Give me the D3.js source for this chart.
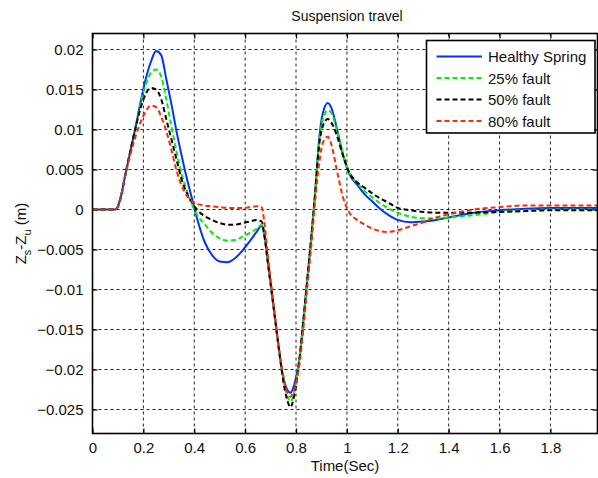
<!DOCTYPE html>
<html>
<head>
<meta charset="utf-8">
<script src="https://cdn.jsdelivr.net/npm/d3@7"></script>
<style>
  body { margin: 0; background: #fff; }
  svg { display: block; font-family: "Liberation Sans", Arial, sans-serif; }
</style>
</head>
<body>
<div id="chart"></div>
<script>
// data
const time = [0, 0.05, 0.09, 0.10, 0.11, 0.13, 0.15, 0.17, 0.19, 0.21, 0.23, 0.25, 0.27, 0.29, 0.31, 0.33, 0.35, 0.37, 0.39, 0.41,
  0.44, 0.47, 0.50, 0.53, 0.56, 0.59, 0.62, 0.645, 0.665, 0.675, 0.69, 0.705, 0.72, 0.735, 0.75, 0.765, 0.778, 0.79, 0.80,
  0.815, 0.83, 0.845, 0.86, 0.875, 0.89, 0.905, 0.925, 0.94, 0.96, 0.985, 1.01, 1.04, 1.07, 1.10, 1.13, 1.16, 1.20, 1.25,
  1.30, 1.35, 1.40, 1.50, 1.60, 1.70, 1.80, 1.90, 2.0];

const healthy = [0, 0, 0, 0.0004, 0.0014, 0.0045, 0.0074, 0.0104, 0.0136, 0.0164, 0.0185, 0.0198, 0.0193, 0.0163, 0.0132, 0.0098, 0.0068, 0.0040, 0.0015, -0.0010,
  -0.0040, -0.0057, -0.0065, -0.0066, -0.0061, -0.0051, -0.0039, -0.0028, -0.0020, -0.0032, -0.0068, -0.0105, -0.0143, -0.0180, -0.0210, -0.0225, -0.0229, -0.0222, -0.0210,
  -0.0183, -0.0135, -0.0085, -0.0035, 0.0020, 0.0085, 0.0120, 0.0133, 0.0126, 0.0102, 0.0068, 0.0044, 0.0031, 0.0019, 0.0010, 0.0001, -0.0006, -0.0013, -0.0016,
  -0.0015, -0.0013, -0.0010, -0.0004, -0.0001, 0.0001, 0.0002, 0.0002, 0.0002];

const fault25 = [0, 0, 0, 0.0004, 0.0014, 0.0045, 0.0075, 0.0104, 0.0134, 0.0157, 0.0171, 0.0175, 0.0166, 0.0138, 0.0104, 0.0073, 0.0045, 0.0024, 0.0007, -0.0006,
  -0.0018, -0.0029, -0.0036, -0.0039, -0.0038, -0.0034, -0.0029, -0.0024, -0.0019, -0.0032, -0.0068, -0.0105, -0.0143, -0.0180, -0.0212, -0.0232, -0.0240, -0.0232, -0.0216,
  -0.0183, -0.0135, -0.0085, -0.0035, 0.0020, 0.0082, 0.0113, 0.0124, 0.0120, 0.0100, 0.0070, 0.0046, 0.0033, 0.0023, 0.0015, 0.0008, 0.0002, -0.0004, -0.0009,
  -0.0011, -0.0011, -0.0010, -0.0007, -0.0003, -0.0001, 0, 0, 0];

const fault50 = [0, 0, 0, 0.0004, 0.0014, 0.0045, 0.0075, 0.0103, 0.0128, 0.0145, 0.0152, 0.0150, 0.0138, 0.0113, 0.0088, 0.0063, 0.0038, 0.0021, 0.0009, 0.0000,
  -0.0008, -0.0013, -0.0017, -0.0019, -0.0019, -0.0017, -0.0015, -0.0013, -0.0015, -0.0030, -0.0068, -0.0105, -0.0143, -0.0180, -0.0215, -0.0238, -0.0247, -0.0237, -0.0220,
  -0.0183, -0.0135, -0.0085, -0.0035, 0.0020, 0.0078, 0.0104, 0.0113, 0.0108, 0.0093, 0.0067, 0.0046, 0.0034, 0.0027, 0.0020, 0.0014, 0.0009, 0.0002, -0.0001,
  -0.0003, -0.0004, -0.0004, -0.0004, -0.0003, -0.0002, -0.0001, -0.0001, -0.0001];

const fault80 = [0, 0, 0, 0.0004, 0.0014, 0.0044, 0.0070, 0.0092, 0.0110, 0.0123, 0.0130, 0.0128, 0.0116, 0.0098, 0.0075, 0.0049, 0.0030, 0.0018, 0.0010, 0.0007,
  0.0005, 0.0004, 0.0003, 0.0002, 0.0002, 0.0002, 0.0003, 0.0004, 0.0003, -0.0015, -0.0060, -0.0100, -0.0140, -0.0178, -0.0208, -0.0228, -0.0234, -0.0228, -0.0218,
  -0.0190, -0.0145, -0.0095, -0.0045, 0.0010, 0.0055, 0.0083, 0.0091, 0.0080, 0.0050, 0.0015, -0.0004, -0.0013, -0.0019, -0.0024, -0.0027, -0.0028, -0.0026, -0.0021,
  -0.0016, -0.0010, -0.0006, 0.0000, 0.0003, 0.0005, 0.0005, 0.0005, 0.0005];

const seriesNames = ["Healthy Spring", "25% fault", "50% fault", "80% fault"];
const seriesColors = ["#0033ff", "#00ee00", "#000000", "#ff2a00"];
const xTicks = [0, 0.2, 0.4, 0.6, 0.8, 1, 1.2, 1.4, 1.6, 1.8];
const yTicks = [0.02, 0.015, 0.01, 0.005, 0, -0.005, -0.01, -0.015, -0.02, -0.025];

const W = 598, H = 478;
const pL = 92.5, pR = 597.5, pT = 33.5, pB = 433.5;

const svg = d3.select("#chart").append("svg")
  .attr("width", W).attr("height", H);

const x = d3.scaleLinear().domain([0, 1.985]).range([pL, pR]);
const y = d3.scaleLinear().domain([-0.028, 0.022]).range([pB, pT]);

svg.append("defs").append("clipPath").attr("id", "clip")
  .append("rect").attr("x", pL).attr("y", pT)
  .attr("width", pR - pL).attr("height", pB - pT);

// grid
const grid = svg.append("g");
grid.selectAll(".gx").data(xTicks.slice(1)).enter().append("line")
  .attr("x1", d => x(d)).attr("x2", d => x(d))
  .attr("y1", pT).attr("y2", pB)
  .attr("stroke", "#222").attr("stroke-width", 1).attr("stroke-dasharray", "3,3");
grid.selectAll(".gy").data(yTicks).enter().append("line")
  .attr("x1", pL).attr("x2", pR)
  .attr("y1", d => y(d)).attr("y2", d => y(d))
  .attr("stroke", "#222").attr("stroke-width", 1).attr("stroke-dasharray", "3,3");

// axes (ticks point inward)
const fmt = d => d3.format("")(+d.toFixed(3));
const axB = svg.append("g").attr("transform", `translate(0,${pB})`)
  .call(d3.axisBottom(x).tickValues(xTicks).tickSize(-5).tickPadding(10).tickFormat(fmt));
const axT = svg.append("g").attr("transform", `translate(0,${pT})`)
  .call(d3.axisTop(x).tickValues(xTicks).tickSize(-5).tickFormat(""));
const axL = svg.append("g").attr("transform", `translate(${pL},0)`)
  .call(d3.axisLeft(y).tickValues(yTicks).tickSize(-5).tickPadding(9).tickFormat(fmt));
const axR = svg.append("g").attr("transform", `translate(${pR},0)`)
  .call(d3.axisRight(y).tickValues(yTicks).tickSize(-5).tickFormat(""));

[axB, axT, axL, axR].forEach(a => {
  a.select(".domain").remove();
  a.selectAll(".tick line").attr("stroke", "#000").attr("stroke-width", 1.2);
  a.selectAll("text").attr("fill", "#111").style("font-size", "15px")
    .style("font-family", "'Liberation Sans', Arial, sans-serif");
});
axB.selectAll("text").attr("dy", "0.71em").attr("y", 9);

// lines
const plot = svg.append("g").attr("clip-path", "url(#clip)");
const allSeries = [healthy, fault25, fault50, fault80];
const line = d3.line()
  .x((d, i) => x(time[i]))
  .y(d => y(d))
  .curve(d3.curveMonotoneX);

allSeries.forEach((s, k) => {
  plot.append("path")
    .datum(s)
    .attr("fill", "none")
    .attr("stroke", seriesColors[k])
    .attr("stroke-width", 2)
    .attr("stroke-dasharray", k === 0 ? null : "5,3")
    .attr("d", line);
});

// box
svg.append("rect")
  .attr("x", pL).attr("y", pT)
  .attr("width", pR - pL).attr("height", pB - pT)
  .attr("fill", "none").attr("stroke", "#000").attr("stroke-width", 1.6);

// title and labels
svg.append("text").attr("x", 347).attr("y", 21)
  .attr("text-anchor", "middle").style("font-size", "14px").attr("fill", "#111")
  .text("Suspension travel");

svg.append("text").attr("x", 345).attr("y", 471)
  .attr("text-anchor", "middle").style("font-size", "15px").attr("fill", "#111")
  .text("Time(Sec)");

const yl = svg.append("text")
  .attr("transform", `translate(26,${(pT + pB) / 2}) rotate(-90)`)
  .attr("text-anchor", "middle").style("font-size", "15px").attr("fill", "#111");
yl.append("tspan").text("Z");
yl.append("tspan").attr("dy", 5).style("font-size", "11px").text("s");
yl.append("tspan").attr("dy", -5).text("-Z");
yl.append("tspan").attr("dy", 5).style("font-size", "11px").text("u");
yl.append("tspan").attr("dy", -5).text(" (m)");

// legend
const lg = svg.append("g");
lg.append("rect")
  .attr("x", 426.5).attr("y", 40.5).attr("width", 168.5).attr("height", 92.5)
  .attr("fill", "#fff").attr("stroke", "#000").attr("stroke-width", 1.6);
seriesNames.forEach((name, k) => {
  const ly = 56.5 + k * 21.5;
  lg.append("line")
    .attr("x1", 436.5).attr("x2", 482).attr("y1", ly).attr("y2", ly)
    .attr("stroke", seriesColors[k]).attr("stroke-width", 2)
    .attr("stroke-dasharray", k === 0 ? null : "5,3");
  lg.append("text").attr("x", 488).attr("y", ly + 5.5)
    .style("font-size", "15px").attr("fill", "#111").text(name);
});
</script>
</body>
</html>
